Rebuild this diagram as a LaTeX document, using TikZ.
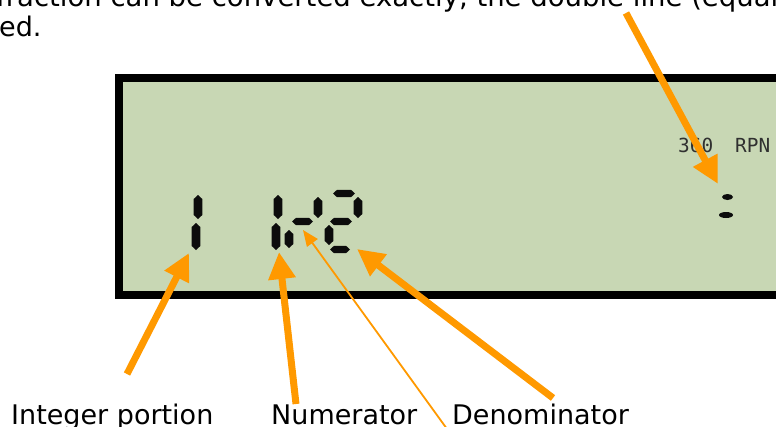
\documentclass[tikz,border=0pt]{standalone}
\usepackage{fontspec}
\setmainfont{DejaVu Sans}
\newfontfamily\lcdfont{DejaVu Sans Mono}
\usepackage{xcolor}
\usepackage{tikz}
\usetikzlibrary{arrows.meta}
\definecolor{lcdgreen}{RGB}{200,215,180}
\definecolor{lcdink}{RGB}{12,12,12}
\definecolor{pointorange}{RGB}{255,153,0}

% seven-segment pieces: x, y (centre), length
\newcommand{\vseg}[3]{%
  \fill[lcdink] (#1,{#2-#3/2}) -- ++(4.3,4) -- ++(0,{#3-8}) -- ++(-4.3,4) -- ++(-4.3,-4) -- ++(0,{8-#3}) -- cycle;}
\newcommand{\hseg}[3]{%
  \fill[lcdink] ({#1-#3/2},#2) -- ++(4,-3.7) -- ++({#3-8},0) -- ++(4,3.7) -- ++(-4,3.7) -- ++({8-#3},0) -- cycle;}

\begin{document}
\begin{tikzpicture}[
    x=1pt, y=-1pt,
    body/.style={inner sep=0pt, anchor=base west, font=\fontsize{27}{31}\selectfont},
    lcdtext/.style={inner sep=0pt, anchor=base west, font=\lcdfont\fontsize{19.4}{22}\selectfont, text=lcdink!85},
    lcd/.style={fill=lcdgreen, draw=black, line width=8pt},
    arrow/.style={-{Triangle[length=27pt,width=26pt]}, line width=7pt, draw=pointorange},
    thinarrow/.style={-{Triangle[length=16pt,width=13pt]}, line width=1.8pt, draw=pointorange}
]
\useasboundingbox (0,0) rectangle (776,426);
\clip (0,0) rectangle (776,426);

% Text
\node (topline) [body, font=\fontsize{27.5}{31}\selectfont] at (-4,6) {fraction can be converted exactly, the double line (equal};
\node (endline) [body] at (-1,36) {ed.};

% Display
\draw [lcd] (119,78) rectangle (800,295);
\node (angle) [lcdtext] at (678,152) {360};
\node (mode) [lcdtext] at (735,152) {RPN};

% integer 1
\vseg{198}{207}{24}
\vseg{196}{236.5}{27}
% numerator 1
\vseg{278}{207}{24}
\vseg{276}{236.5}{27}
% fraction mark
\vseg{289}{239}{18}
\hseg{302.5}{221.5}{21}
\vseg{318}{207.5}{21}
% denominator 2
\hseg{344}{193.5}{22}
\vseg{358}{207.5}{21}
\hseg{341}{221.5}{22}
\vseg{329}{235}{20}
\hseg{340}{249.5}{20}
% exact mark
\fill[lcdink] (727.5,197) ellipse (5.5 and 3);
\fill[lcdink] (726,215) ellipse (7 and 3);

% Coordinates
\coordinate (inttip) at (189,253);
\coordinate (inttail) at (127,374);
\coordinate (numtip) at (279,252);
\coordinate (numtail) at (296,404);
\coordinate (dentip) at (357,249);
\coordinate (dentail) at (553,398);
\coordinate (bartip) at (303,230);
\coordinate (bartail) at (455,440);
\coordinate (exacttip) at (718,184);
\coordinate (exacttail) at (626,13);

% Labels
\node (intlabel) [body] at (11,424) {Integer portion};
\node (numlabel) [body] at (271,424) {Numerator};
\node (denlabel) [body] at (452,424) {Denominator};

% Connectors
\draw [arrow] (inttail) -- (inttip);
\draw [arrow] (numtail) -- (numtip);
\draw [arrow] (dentail) -- (dentip);
\draw [thinarrow] (bartail) -- (bartip);
\draw [arrow] (exacttail) -- (exacttip);

\end{tikzpicture}
\end{document}
